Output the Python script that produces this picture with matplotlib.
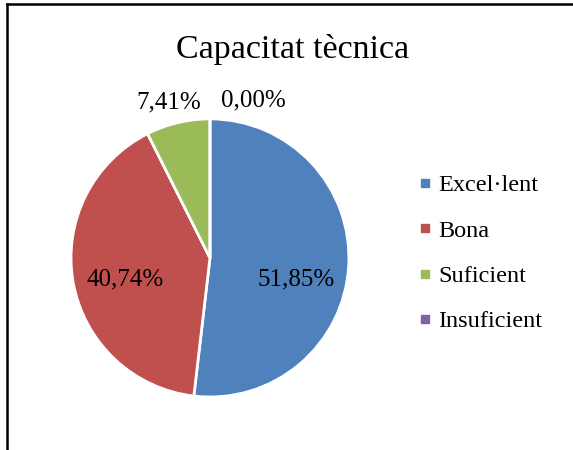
import matplotlib.pyplot as plt
import numpy as np
from matplotlib.lines import Line2D

# dades
categories = ['Excel·lent', 'Bona', 'Suficient', 'Insuficient']
percentatges = [51.85, 40.74, 7.41, 0.00]
colors = ['#4F81BD', '#C0504D', '#9BBB59', '#8064A2']

plt.rcParams['font.family'] = ['Liberation Serif', 'DejaVu Serif']

fig = plt.figure(figsize=(5.73, 4.5), dpi=100)

# vora del gràfic (només es veu a dalt i a l'esquerra)
fig.add_artist(Line2D([0.012, 1.0], [0.991, 0.991], color='black', lw=1.8, transform=fig.transFigure))
fig.add_artist(Line2D([0.012, 0.012], [0.0, 0.991], color='black', lw=1.8, transform=fig.transFigure))

fig.text(0.511, 0.891, 'Capacitat tècnica', ha='center', va='center', fontsize=24.5)

ax = fig.add_axes([0.1239, 0.1178, 0.485, 0.618])
wedges, _ = ax.pie(percentatges, colors=colors, startangle=90, counterclock=False,
                   wedgeprops=dict(edgecolor='white', linewidth=2))
ax.set_xlim(-1, 1)
ax.set_ylim(-1, 1)
ax.set_aspect('auto')
ax.axis('off')

# etiquetes de dades (posició semblant a l'Excel)
for w, val in zip(wedges, percentatges):
    mid = np.deg2rad((w.theta1 + w.theta2) / 2)
    txt = f'{val:.2f}%'.replace('.', ',')
    if val > 20:
        x = 0.62 * np.cos(mid)
        y = -0.155
    elif val > 0:
        a = mid + np.deg2rad(1.5)
        x, y = 1.16 * np.cos(a), 1.16 * np.sin(a)
    else:
        x, y = 0.31, 1.13
    ax.text(x, y, txt, ha='center', va='center', fontsize=18)

handles = [Line2D([], [], marker='s', color=c, linestyle='none', markersize=5.5) for c in colors]
fig.legend(handles, categories, loc='center left', bbox_to_anchor=(0.691, 0.437),
           frameon=False, fontsize=17.5, handlelength=0.6, handletextpad=0.23,
           labelspacing=0.96)

plt.savefig('out.png', dpi=100)
